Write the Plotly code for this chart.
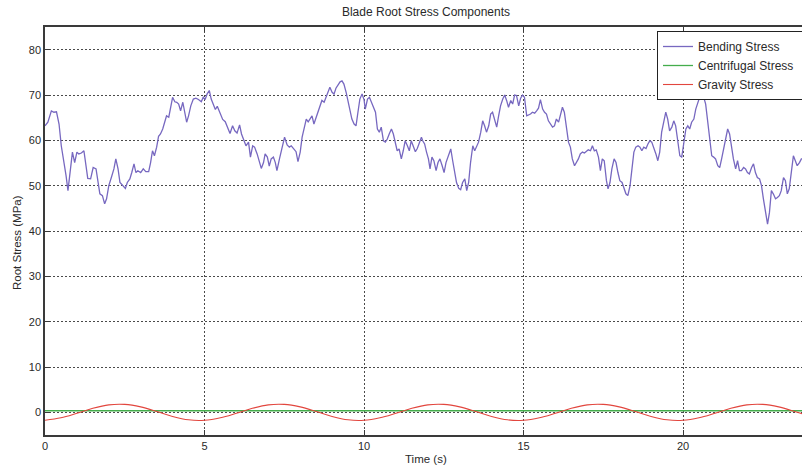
import plotly.graph_objects as go

# ---- data -------------------------------------------------------------
time_s = [
    0.0, 0.09, 0.2, 0.28, 0.36, 0.44, 0.51, 0.6, 0.66, 0.72, 0.78, 0.86, 0.93, 1.0,
    1.06, 1.14, 1.22, 1.28, 1.34, 1.43, 1.51, 1.6, 1.66, 1.72, 1.8, 1.87, 1.93, 2.0,
    2.08, 2.16, 2.22, 2.29, 2.35, 2.43, 2.52, 2.58, 2.66, 2.72, 2.79, 2.85, 2.91, 3.0,
    3.08, 3.16, 3.25, 3.31, 3.37, 3.43, 3.5, 3.56, 3.62, 3.69, 3.75, 3.81, 3.88, 3.94,
    4.0, 4.07, 4.13, 4.19, 4.25, 4.32, 4.38, 4.44, 4.5, 4.57, 4.65, 4.73, 4.81, 4.9,
    4.96, 5.02, 5.08, 5.15, 5.21, 5.27, 5.34, 5.4, 5.48, 5.57, 5.65, 5.74, 5.8, 5.88,
    5.95, 6.02, 6.1, 6.16, 6.24, 6.3, 6.38, 6.44, 6.51, 6.57, 6.65, 6.72, 6.78, 6.85,
    6.9, 6.97, 7.03, 7.09, 7.16, 7.22, 7.27, 7.35, 7.43, 7.51, 7.59, 7.66, 7.72, 7.81,
    7.87, 7.93, 8.0, 8.06, 8.12, 8.19, 8.25, 8.31, 8.37, 8.43, 8.5, 8.56, 8.62, 8.68,
    8.75, 8.81, 8.87, 8.93, 9.0, 9.06, 9.12, 9.19, 9.25, 9.31, 9.37, 9.44, 9.5, 9.56,
    9.62, 9.69, 9.75, 9.81, 9.87, 9.94, 10.0, 10.04, 10.11, 10.17, 10.23, 10.29, 10.36,
    10.42, 10.48, 10.54, 10.61, 10.67, 10.73, 10.79, 10.86, 10.92, 10.98, 11.04, 11.1,
    11.17, 11.23, 11.29, 11.36, 11.42, 11.48, 11.55, 11.61, 11.67, 11.73, 11.8,
    11.84, 11.9, 11.96, 12.02, 12.07, 12.13, 12.19, 12.26, 12.32, 12.38, 12.45, 12.51,
    12.57, 12.64, 12.72, 12.78, 12.84, 12.9, 12.97, 13.03, 13.09, 13.16, 13.22, 13.28,
    13.34, 13.41, 13.47, 13.53, 13.59, 13.66, 13.72, 13.78, 13.84, 13.91, 13.97, 14.03,
    14.1, 14.16, 14.22, 14.28, 14.35, 14.41, 14.47, 14.53, 14.6, 14.66, 14.72, 14.78,
    14.85, 14.91, 14.97, 15.03, 15.1, 15.16, 15.22, 15.28, 15.35, 15.41, 15.47, 15.53,
    15.6, 15.66, 15.72, 15.78, 15.85, 15.91, 15.97, 16.03, 16.1, 16.16, 16.22, 16.28,
    16.35, 16.41, 16.47, 16.53, 16.6, 16.66, 16.72, 16.78, 16.85, 16.91, 16.97, 17.03,
    17.1, 17.16, 17.22, 17.28, 17.35, 17.41, 17.47, 17.53, 17.6,
    17.65, 17.71, 17.77, 17.84, 17.9, 17.96, 18.02, 18.09, 18.15, 18.21, 18.27, 18.34,
    18.4, 18.46, 18.52, 18.59, 18.65, 18.71, 18.77, 18.84, 18.9, 18.96, 19.02, 19.08,
    19.15, 19.21, 19.27, 19.33, 19.4, 19.46, 19.52, 19.58, 19.65, 19.71, 19.77, 19.83,
    19.9, 19.96, 20.02, 20.09, 20.15, 20.21, 20.27, 20.34, 20.4, 20.46, 20.52, 20.59,
    20.65, 20.71, 20.77, 20.84, 20.9, 20.96, 21.02, 21.09, 21.15, 21.21, 21.27, 21.34,
    21.4, 21.46, 21.52, 21.58, 21.65, 21.71, 21.77, 21.83, 21.9, 21.96, 22.02, 22.08,
    22.15, 22.21, 22.27, 22.33, 22.4, 22.46, 22.52, 22.58, 22.65, 22.71, 22.77, 22.83,
    22.9, 22.96, 23.02, 23.08, 23.15, 23.21, 23.27, 23.33, 23.4, 23.46, 23.52, 23.58,
    23.65, 23.71, 23.9,
]

bending_mpa = [
    63.2, 64.0, 66.5, 66.2, 66.3, 63.6, 58.8, 55.1, 52.2, 48.9, 52.9, 57.4, 55.1, 57.4,
    57.0, 57.2, 57.7, 55.1, 51.6, 51.5, 54.0, 53.7, 50.7, 48.2, 47.8, 46.0, 47.1, 50.0,
    51.8, 53.7, 55.9, 53.7, 50.7, 50.1, 49.4, 50.7, 51.5, 52.9, 54.8, 52.9, 53.3, 52.9,
    53.7, 53.1, 53.1, 55.1, 57.7, 56.6, 58.5, 60.9, 61.4, 62.5, 64.0, 65.4, 65.1, 67.6,
    69.5, 68.5, 68.4, 68.0, 66.5, 68.4, 66.2, 64.0, 65.4, 67.6, 69.1, 69.3, 69.0, 68.5,
    69.5, 69.0, 70.2, 71.0, 69.1, 68.0, 66.8, 67.5, 66.2, 64.6, 64.1, 62.5, 61.5, 63.2,
    62.1, 61.6, 63.4, 61.4, 59.6, 58.8, 59.6, 56.3, 58.8, 58.5, 57.0, 55.5, 53.8, 55.1,
    57.0, 56.3, 54.3, 55.9, 56.3, 55.1, 53.3, 55.9, 58.5, 60.7, 59.0, 58.5, 58.8, 57.9,
    57.5, 55.3, 57.4, 60.7, 62.9, 64.7, 64.1, 64.9, 65.4, 63.6, 65.1, 66.5, 67.3, 68.8,
    68.4, 69.5, 70.2, 71.7, 70.6, 70.2, 71.5, 72.4, 72.9, 73.1, 72.4, 70.6, 68.4, 66.2,
    64.7, 63.6, 63.2, 66.2, 69.1, 70.2, 69.0, 66.9, 69.1, 69.5, 68.4, 67.3, 66.2,
    62.5, 61.8, 62.9, 59.9, 59.6, 60.3, 61.4, 62.5, 61.4, 59.2, 57.7, 58.1,
    55.9, 57.7, 59.9, 58.8, 57.7, 59.9, 58.5, 57.5, 58.2, 59.6, 60.7,
    59.9, 59.2, 57.4, 55.9, 53.7, 56.3, 55.5, 53.3, 55.1, 55.9, 54.4, 52.9,
    55.1, 56.6, 58.1, 55.5, 52.9, 50.7, 49.4, 49.1, 50.7, 51.5, 48.9, 50.7,
    55.1, 58.8, 57.7, 58.5, 59.6, 61.8, 64.3, 63.2, 61.8, 63.2, 65.8, 66.2,
    64.7, 62.9, 65.4, 67.6, 69.1, 70.0, 68.8, 67.3, 68.8, 68.0, 70.0, 69.9,
    67.6, 69.3, 70.0, 69.5, 65.4, 65.6, 65.8, 66.2, 66.0, 66.5, 67.1, 69.0,
    66.9, 66.2, 65.8, 64.3, 63.4, 62.9, 63.2, 64.7, 64.0, 65.8, 67.3, 66.2,
    62.5, 59.6, 58.5, 55.9, 54.4, 55.1, 55.9, 57.0, 57.4, 57.2, 57.5, 57.9,
    57.7, 58.8, 57.7, 57.9, 56.3, 53.3, 55.9, 55.5, 51.1,
    49.3, 50.7, 53.7, 55.9, 55.1, 52.9, 51.1, 50.7, 49.3, 48.2, 47.8, 50.0,
    53.7, 57.4, 58.5, 58.8, 58.5, 57.7, 58.5, 58.2, 59.2, 59.9, 59.6, 58.5,
    57.0, 55.5, 57.4, 61.8, 64.7, 66.2, 64.7, 62.1, 62.9, 64.3, 63.2, 59.6,
    56.6, 56.3, 59.6, 62.5, 63.2, 62.5, 64.0, 64.7, 66.9, 68.0, 69.5, 69.9,
    69.5, 68.0, 64.3, 60.3, 56.6, 56.3, 55.9, 54.4, 54.0, 55.9, 58.1, 60.3,
    62.5, 61.4, 58.5, 55.9, 53.7, 55.5, 53.3, 53.3, 54.0, 53.7, 52.9, 52.6,
    54.0, 54.8, 52.9, 51.8, 51.5, 50.0, 47.1, 44.1, 41.5, 44.1, 48.9, 48.2,
    47.1, 47.4, 47.8, 48.9, 51.8, 51.1, 48.2, 49.3, 53.7, 56.6, 55.5, 54.4,
    55.1, 55.9, 56.0,
]

centrifugal_t = [0.0, 23.9]
centrifugal_mpa = [0.35, 0.35]

gravity_t = [
    0.0, 0.5, 1.0, 1.5, 2.0, 2.5, 3.0, 3.5, 4.0, 4.5, 5.0, 5.5, 6.0, 6.5, 7.0, 7.5,
    8.0, 8.5, 9.0, 9.5, 10.0, 10.5, 11.0, 11.5, 12.0, 12.5, 13.0, 13.5, 14.0, 14.5,
    15.0, 15.5, 16.0, 16.5, 17.0, 17.5, 18.0, 18.5, 19.0, 19.5, 20.0, 20.5, 21.0,
    21.5, 22.0, 22.5, 23.0, 23.5, 24.0,
]
gravity_mpa = [
    -1.75, -1.2, -0.2, 0.9, 1.65, 1.75, 1.2, 0.2, -0.9, -1.65,
    -1.75, -1.2, -0.2, 0.9, 1.65, 1.75, 1.2, 0.2, -0.9, -1.65,
    -1.75, -1.2, -0.2, 0.9, 1.65, 1.75, 1.2, 0.2, -0.9, -1.65,
    -1.75, -1.2, -0.2, 0.9, 1.65, 1.75, 1.2, 0.2, -0.9, -1.65,
    -1.75, -1.2, -0.2, 0.9, 1.65, 1.75, 1.2, 0.2, -0.9,
]

series_names = ["Bending Stress", "Centrifugal Stress", "Gravity Stress"]

x_ticks = [0, 5, 10, 15, 20]
y_ticks = [0, 10, 20, 30, 40, 50, 60, 70, 80]

# ---- figure -----------------------------------------------------------
FONT = "Liberation Sans, Arial, sans-serif"
TXT = "#2a2a2a"
PAD = "\u00a0" * 8  # widens the legend box so it runs past the right edge

fig = go.Figure()
fig.add_trace(go.Scatter(
    x=time_s, y=bending_mpa, mode="lines", name=series_names[0],
    line=dict(color="#7768c0", width=1.3),
))
fig.add_trace(go.Scatter(
    x=centrifugal_t, y=centrifugal_mpa, mode="lines", name=series_names[1] + PAD,
    line=dict(color="#44ad4c", width=1.3),
))
fig.add_trace(go.Scatter(
    x=gravity_t, y=gravity_mpa, mode="lines", name=series_names[2],
    line=dict(color="#e2463e", width=1.1, shape="spline"),
))

axis_common = dict(
    showgrid=True, gridcolor="#4a4a4a", gridwidth=1, griddash="1.5px,2.5px",
    zeroline=False, showline=True, linecolor="#3a3a3a", linewidth=1.5,
    ticks="inside", ticklen=5, tickcolor="#3a3a3a",
    tickfont=dict(family=FONT, size=11, color=TXT),
)

fig.update_xaxes(
    range=[0, 23.73], tickvals=x_ticks, ticktext=[str(v) for v in x_ticks],
    mirror="allticks", **axis_common,
)
fig.update_yaxes(
    range=[-5, 85], tickvals=y_ticks, ticktext=[str(v) for v in y_ticks],
    mirror=False, **axis_common,
)

PLOT_L, PLOT_W, PLOT_T, PLOT_H = 45, 757, 27, 408

fig.update_layout(
    width=802, height=468,
    margin=dict(l=PLOT_L, r=0, t=PLOT_T, b=468 - PLOT_T - PLOT_H, autoexpand=False),
    paper_bgcolor="white", plot_bgcolor="white",
    font=dict(family=FONT, size=11, color=TXT),
    title=dict(text="Blade Root Stress Components", x=426 / 802, xref="container",
               xanchor="center", y=1 - 12 / 468, yref="container", yanchor="middle",
               font=dict(family=FONT, size=12, color=TXT)),
    legend=dict(
        x=(657 - PLOT_L) / PLOT_W, y=1 - (31 - PLOT_T) / PLOT_H,
        xanchor="left", yanchor="top",
        bgcolor="white", bordercolor="#222222", borderwidth=1,
        font=dict(family=FONT, size=12, color=TXT),
        tracegroupgap=0,
    ),
    annotations=[
        dict(text="Time (s)", x=(426 - PLOT_L) / PLOT_W, xref="paper",
             y=-(459 - PLOT_T - PLOT_H) / PLOT_H, yref="paper",
             xanchor="center", yanchor="middle", showarrow=False,
             font=dict(family=FONT, size=11.5, color=TXT)),
        dict(text="Root Stress (MPa)", x=(17 - PLOT_L) / PLOT_W, xref="paper",
             y=1 - (243 - PLOT_T) / PLOT_H, yref="paper",
             textangle=-90, showarrow=False, xanchor="center", yanchor="middle",
             font=dict(family=FONT, size=11.5, color=TXT)),
    ],
)

fig.write_html("out.html")
